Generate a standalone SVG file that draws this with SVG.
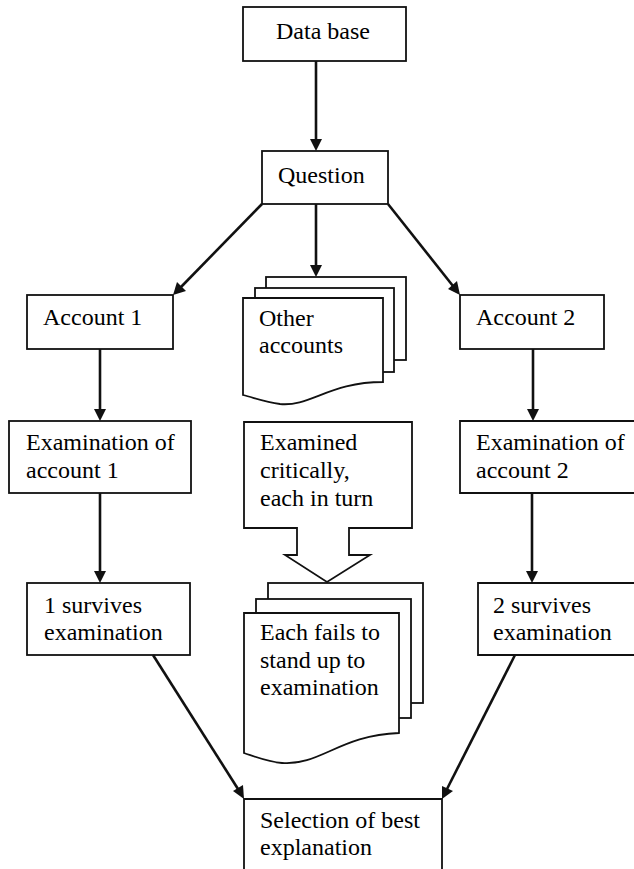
<svg xmlns="http://www.w3.org/2000/svg" width="634" height="869" viewBox="0 0 634 869">
<style>
  .box { fill: #fff; stroke: #111; stroke-width: 1.8; }
  .ln { fill: none; stroke: #111; stroke-width: 2.6; }
  .hd { fill: #111; stroke: none; }
</style>
<rect width="634" height="869" fill="#fff"/>

<g id="data-base">
  <rect class="box" x="243" y="7" width="163" height="54"/>
  <text x="276" y="39" font-size="24" font-family="Liberation Serif">Data base</text>
</g>

<g id="question">
  <rect class="box" x="262" y="151" width="126" height="53"/>
  <text x="278" y="183" font-size="24" font-family="Liberation Serif">Question</text>
</g>

<g id="account-1">
  <rect class="box" x="27" y="295" width="146" height="54"/>
  <text x="43" y="325" font-size="24" font-family="Liberation Serif">Account 1</text>
</g>

<g id="account-2">
  <rect class="box" x="460" y="295" width="144" height="54"/>
  <text x="476" y="325" font-size="24" font-family="Liberation Serif">Account 2</text>
</g>

<g id="other-accounts">
  <rect class="box" x="266" y="277" width="140" height="83"/>
  <rect class="box" x="255" y="288" width="139" height="84"/>
  <path class="box" d="M243,298 H383 V382 C330,382 310,407 280,404 C265,402 255,398 243,395 Z"/>
  <text x="259" y="326" font-size="24" font-family="Liberation Serif">Other</text>
  <text x="259" y="353" font-size="24" font-family="Liberation Serif">accounts</text>
</g>

<g id="examination-1">
  <rect class="box" x="9" y="421" width="182" height="72"/>
  <text x="26" y="450" font-size="24" font-family="Liberation Serif">Examination of</text>
  <text x="26" y="478" font-size="24" font-family="Liberation Serif">account 1</text>
</g>

<g id="examination-2">
  <path class="box" d="M640,421 H460 V493 H640"/>
  <text x="476" y="450" font-size="24" font-family="Liberation Serif">Examination of</text>
  <text x="476" y="478" font-size="24" font-family="Liberation Serif">account 2</text>
</g>

<g id="examined-critically">
  <path class="box" d="M244,422 H412 V528 H349 V555 H370 L327,582 L285,555 H297 V528 H244 Z"/>
  <text x="260" y="450" font-size="24" font-family="Liberation Serif">Examined</text>
  <text x="260" y="478" font-size="24" font-family="Liberation Serif">critically,</text>
  <text x="260" y="506" font-size="24" font-family="Liberation Serif">each in turn</text>
</g>

<g id="each-fails">
  <rect class="box" x="268" y="583" width="155" height="120"/>
  <rect class="box" x="256" y="599" width="155" height="119"/>
  <path class="box" d="M244,613 H399 V733 C340,735 320,766 282,763 C268,762 256,757 244,753 Z"/>
  <text x="260" y="640" font-size="24" font-family="Liberation Serif">Each fails to</text>
  <text x="260" y="668" font-size="24" font-family="Liberation Serif">stand up to</text>
  <text x="260" y="695" font-size="24" font-family="Liberation Serif">examination</text>
</g>

<g id="survives-1">
  <rect class="box" x="27" y="583" width="163" height="72"/>
  <text x="44" y="613" font-size="24" font-family="Liberation Serif">1 survives</text>
  <text x="44" y="640" font-size="24" font-family="Liberation Serif">examination</text>
</g>

<g id="survives-2">
  <path class="box" d="M640,583 H478 V655 H640"/>
  <text x="493" y="613" font-size="24" font-family="Liberation Serif">2 survives</text>
  <text x="493" y="640" font-size="24" font-family="Liberation Serif">examination</text>
</g>

<g id="selection">
  <path class="box" d="M244,875 V799 H442 V875"/>
  <text x="260" y="828" font-size="24" font-family="Liberation Serif">Selection of best</text>
  <text x="260" y="855" font-size="24" font-family="Liberation Serif">explanation</text>
</g>

<g id="connectors">
  <path class="ln" d="M316,61 V140"/>
  <polygon class="hd" points="310,139 322,139 316,151"/>
  <path class="ln" d="M262,204 L181,287"/>
  <polygon class="hd" points="173,295 177,282 186,291"/>
  <path class="ln" d="M316,204 V266"/>
  <polygon class="hd" points="310,265 322,265 316,277"/>
  <path class="ln" d="M388,204 L453,286"/>
  <polygon class="hd" points="460,295 448,289 457,281"/>
  <path class="ln" d="M100,349 V410"/>
  <polygon class="hd" points="94,409 106,409 100,421"/>
  <path class="ln" d="M533,349 V410"/>
  <polygon class="hd" points="527,409 539,409 533,421"/>
  <path class="ln" d="M100,493 V572"/>
  <polygon class="hd" points="94,571 106,571 100,583"/>
  <path class="ln" d="M532,493 V572"/>
  <polygon class="hd" points="526,571 538,571 532,583"/>
  <path class="ln" d="M153,655 L238,789"/>
  <polygon class="hd" points="244,799 233,791 243,785"/>
  <path class="ln" d="M515,655 L447,789"/>
  <polygon class="hd" points="442,799 442,786 453,791"/>
</g>
</svg>
